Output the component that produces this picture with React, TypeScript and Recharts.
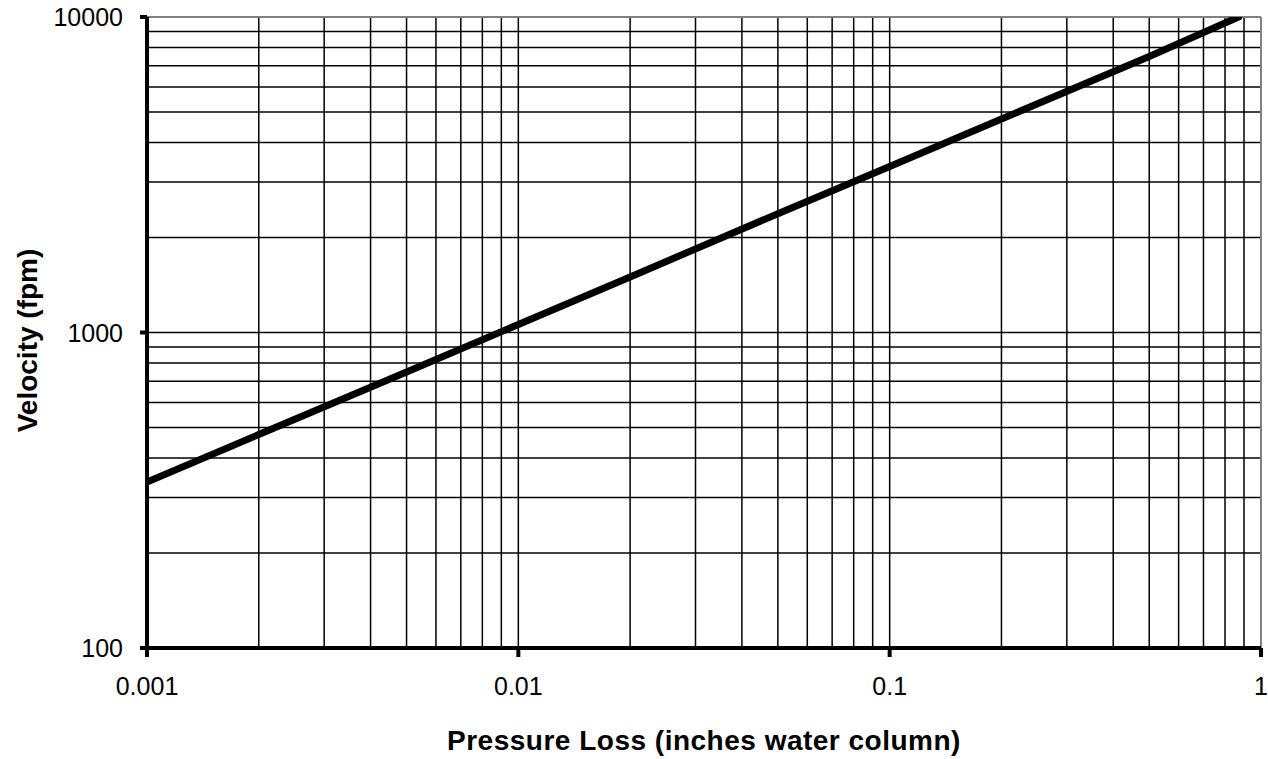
import { LineChart, Line, XAxis, YAxis, CartesianGrid, ReferenceLine } from 'recharts';

// pressure loss (in. w.c.) vs velocity (fpm)
const pressure = [0.001, 0.002, 0.005, 0.01, 0.02, 0.05, 0.1, 0.2, 0.5, 0.87];
const velocity = [336, 475, 750, 1060, 1500, 2380, 3360, 4750, 7500, 10000];

const xGridTicks = [
  0.001, 0.002, 0.003, 0.004, 0.005, 0.006, 0.007, 0.008, 0.009,
  0.01, 0.02, 0.03, 0.04, 0.05, 0.06, 0.07, 0.08, 0.09,
  0.1, 0.2, 0.3, 0.4, 0.5, 0.6, 0.7, 0.8, 0.9, 1,
];
const yGridTicks = [
  100, 200, 300, 400, 500, 600, 700, 800, 900,
  1000, 2000, 3000, 4000, 5000, 6000, 7000, 8000, 9000, 10000,
];
const xLabels = [0.001, 0.01, 0.1, 1];
const yLabels = [100, 1000, 10000];

const data = pressure.map((p, i) => ({ p, v: velocity[i] }));

const FONT = '"Liberation Sans", Arial, sans-serif';

const XTick = (props: any) => {
  const { x, y, payload } = props;
  if (!xLabels.includes(payload.value)) return <g />;
  return (
    <g>
      <line x1={x} x2={x} y1={y} y2={y + 9} stroke="#000" strokeWidth={4} />
      <text x={x} y={y + 47} textAnchor="middle" fontSize={25} fontFamily={FONT} fill="#000">
        {String(payload.value)}
      </text>
    </g>
  );
};

const YTick = (props: any) => {
  const { x, y, payload } = props;
  if (!yLabels.includes(payload.value)) return <g />;
  return (
    <g>
      <line x1={x - 7} x2={x} y1={y} y2={y} stroke="#000" strokeWidth={4} />
      <text x={x - 24} y={y + 9} textAnchor="end" fontSize={25} fontFamily={FONT} fill="#000">
        {String(payload.value)}
      </text>
    </g>
  );
};

const App = () => {
  return (
    <div style={{ position: 'absolute', left: 0, top: 0, background: '#fff' }}>
      <LineChart
        width={1268}
        height={759}
        data={data}
        margin={{ top: 17, right: 7, left: 87, bottom: 71 }}
      >
        <CartesianGrid stroke="#000" strokeWidth={1.5} />
        <XAxis
          dataKey="p"
          type="number"
          scale="log"
          domain={[0.001, 1]}
          ticks={xGridTicks}
          interval={0}
          allowDataOverflow
          height={40}
          tickSize={0}
          tickMargin={0}
          tickLine={false}
          axisLine={{ stroke: '#000', strokeWidth: 4 }}
          tick={(p: any) => <XTick {...p} />}
          label={{
            content: (lp: any) => {
              const vb = lp.viewBox;
              return (
                <text
                  x={vb.x + vb.width / 2}
                  y={750}
                  textAnchor="middle"
                  fontSize={28}
                  fontWeight="bold"
                  letterSpacing={0.5}
                  fontFamily={FONT}
                  fill="#000"
                >
                  Pressure Loss (inches water column)
                </text>
              );
            },
          }}
        />
        <YAxis
          dataKey="v"
          type="number"
          scale="log"
          domain={[100, 10000]}
          ticks={yGridTicks}
          interval={0}
          allowDataOverflow
          width={60}
          tickSize={0}
          tickMargin={0}
          tickLine={false}
          axisLine={{ stroke: '#000', strokeWidth: 4 }}
          tick={(p: any) => <YTick {...p} />}
          label={{
            content: (lp: any) => {
              const vb = lp.viewBox;
              const cy = vb.y + vb.height / 2 + 8;
              return (
                <text
                  x={27}
                  y={cy}
                  transform={`rotate(-90, 27, ${cy})`}
                  textAnchor="middle"
                  dominantBaseline="central"
                  fontSize={28}
                  fontWeight="bold"
                  fontFamily={FONT}
                  fill="#000"
                >
                  Velocity (fpm)
                </text>
              );
            },
          }}
        />
        <ReferenceLine y={10000} stroke="#808080" strokeWidth={2} />
        <ReferenceLine x={1} stroke="#808080" strokeWidth={2} />
        <Line
          dataKey="v"
          stroke="#000"
          strokeWidth={7}
          strokeLinecap="round"
          dot={false}
          isAnimationActive={false}
        />
      </LineChart>
    </div>
  );
};

export default App;
